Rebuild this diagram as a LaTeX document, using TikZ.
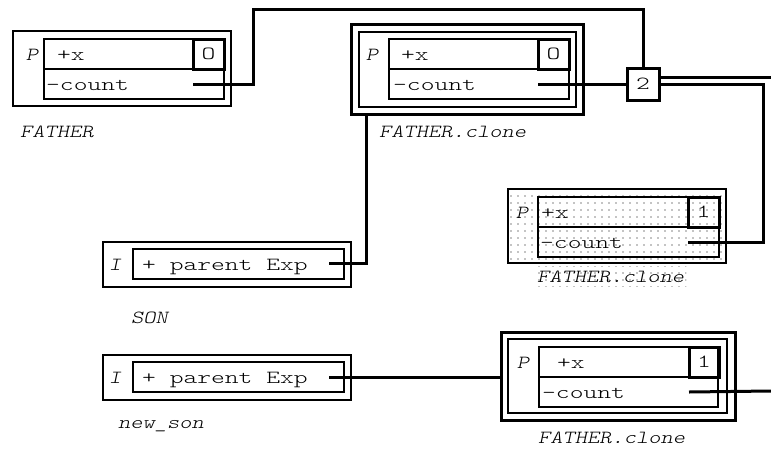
\documentclass[tikz,border=0pt]{standalone}
\usepackage{fontspec}
\newfontfamily\cellfont{lmmonolt10-regular}[Extension=.otf, FakeStretch=1.42]
\newfontfamily\namefont{lmmonolt10-oblique}[Extension=.otf, FakeStretch=1.26]
\newcommand{\cellsize}{\fontsize{18.5}{20}\selectfont}
\newcommand{\gap}{\hphantom{x}}
\usetikzlibrary{patterns.meta}
\tikzdeclarepattern{
  name=sparsedots,
  type=uncolored,
  bounding box={(-1pt,-1pt) and (1pt,1pt)},
  tile size={(7pt,7pt)},
  code={\fill (0pt,0pt) circle (0.7pt);}
}
\tikzset{
  frame/.style ={draw, line width=1.2pt, anchor=north west, inner sep=0pt, outer sep=0pt},
  heavy/.style ={draw, line width=3pt, anchor=north west, inner sep=0pt, outer sep=0pt},
  field/.style ={draw, line width=1.2pt, anchor=north west, inner sep=0pt, outer sep=0pt, minimum height=30pt},
  cnt/.style   ={draw, line width=3pt, anchor=north west, inner sep=0pt, outer sep=0pt, minimum width=31pt, minimum height=30pt, font=\cellfont\cellsize},
  txt/.style   ={anchor=base west, inner sep=0pt, font=\cellfont\cellsize},
  kind/.style  ={anchor=base, inner sep=0pt, font=\namefont\cellsize},
  lbl/.style   ={anchor=base west, inner sep=0pt, font=\namefont\cellsize},
  wire/.style  ={line width=3pt},
}

\begin{document}
\begin{tikzpicture}[x=1pt, y=-1pt]
  \useasboundingbox (0,0) rectangle (771,448);
  % FATHER
  \node[frame, minimum width=218pt, minimum height=75pt] (fout) at (13,31) {};
  \node[field, minimum width=180pt] (fx) at (44,39) {};
  \node[field, minimum width=180pt] (fc) at (44,69) {};
  \node[cnt] (fO) at (193,39) {O};
  \node[kind] (fP) at (32,60) {P};
  \node[txt] (fxt) at (57,60) {+x};
  \node[txt] (fct) at (46,90) {-count};
  \node[lbl] (fname) at (20,137) {FATHER};
  % FATHER.clone (shared)
  \node[heavy, minimum width=232pt, minimum height=90pt] (c1out) at (351,24) {};
  \node[frame, minimum width=217pt, minimum height=75pt] (c1mid) at (359,32) {};
  \node[field, minimum width=180pt] (c1x) at (389,39) {};
  \node[field, minimum width=180pt] (c1c) at (389,69) {};
  \node[cnt] (c1O) at (538,39) {O};
  \node[kind] (c1P) at (372,60) {P};
  \node[txt] (c1xt) at (401,60) {+x};
  \node[txt] (c1ct) at (393,90) {-count};
  \node[lbl] (c1name) at (379,137) {FATHER.clone};
  % reference count
  \node[cnt, minimum width=32pt, minimum height=32pt] (two) at (627,68) {2};
  % FATHER.clone (dotted)
  \node[frame, pattern=sparsedots, minimum width=218pt, minimum height=74pt] (c2out) at (508,189) {};
  \node[field, minimum width=181pt] (c2x) at (538,197) {};
  \node[field, minimum width=181pt] (c2c) at (538,227) {};
  \node[cnt] (c2O) at (688,197) {1};
  \node[kind] (c2P) at (522,218) {P};
  \node[txt] (c2xt) at (541,218) {+x};
  \node[txt] (c2ct) at (540,248) {-count};
  \node[lbl, pattern=sparsedots, inner xsep=2pt, inner ysep=4pt] (c2name) at (535,282) {FATHER.clone};
  % SON
  \node[frame, minimum width=248pt, minimum height=45pt] (sout) at (103,242) {};
  \node[field, minimum width=211pt] (sp) at (133,249) {};
  \node[kind] (sI) at (115,270) {I};
  \node[txt] (spt) at (142,270) {+\gap parent\gap Exp};
  \node[lbl] (sname) at (131,323) {SON};
  % new_son
  \node[frame, minimum width=248pt, minimum height=45pt] (nout) at (103,355) {};
  \node[field, minimum width=211pt] (np) at (133,362) {};
  \node[kind] (nI) at (115,383) {I};
  \node[txt] (npt) at (142,383) {+\gap parent\gap Exp};
  \node[lbl] (nname) at (118,428) {new\_son};
  % FATHER.clone (new)
  \node[heavy, minimum width=234pt, minimum height=88pt] (c3out) at (501,332) {};
  \node[frame, minimum width=219pt, minimum height=74pt] (c3mid) at (508,339) {};
  \node[field, minimum width=179pt] (c3x) at (539,347) {};
  \node[field, minimum width=179pt] (c3c) at (539,377) {};
  \node[cnt, minimum width=30pt] (c3O) at (689,347) {1};
  \node[kind] (c3P) at (523,368) {P};
  \node[txt] (c3xt) at (557,368) {+x};
  \node[txt] (c3ct) at (542,398) {-count};
  \node[lbl] (c3name) at (538,443) {FATHER.clone};
  % wires
  \coordinate (jog) at (253,9);
  \coordinate (bend) at (763,84);
  \coordinate (outA) at (771,77);
  \coordinate (outB) at (771,391);
  \coordinate (drop) at (366,114);
  \coordinate (sref) at (329,263);
  \coordinate (nref) at (329,377);
  \draw[wire] (fO.west |- fc) -| (jog) -| (two.north);
  \draw[wire] (c1O.west |- c1c) -- (two.west);
  \draw[wire] (two.east |- outA) -- (outA);
  \draw[wire] (two.east) -- (bend) |- (c2O.west |- c2c);
  \draw[wire] (drop) |- (sref);
  \draw[wire] (nref) -- (nref -| c3out.west);
  \draw[wire] (c3O.west |- c3c) -- (outB);
\end{tikzpicture}
\end{document}
